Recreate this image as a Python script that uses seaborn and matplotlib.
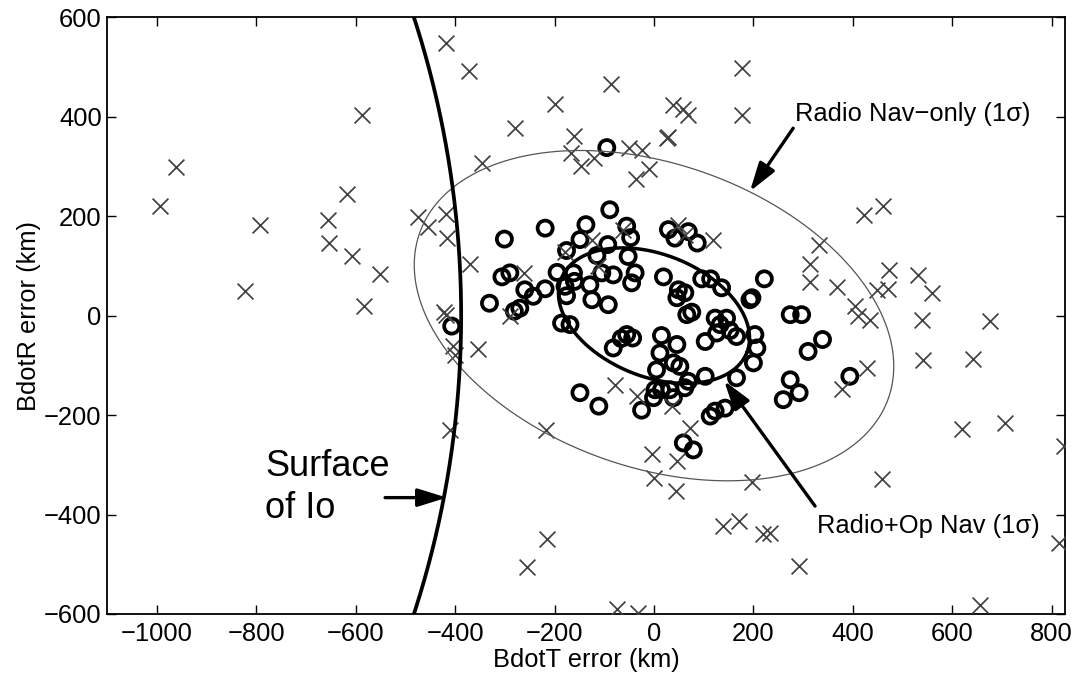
import numpy as np
import pandas as pd
import matplotlib
matplotlib.use("Agg")
import matplotlib.pyplot as plt
import seaborn as sns

# ---------------- data ----------------
# Radio-nav-only dispersion samples (x markers), km
radio_T = [-418, -588, -962, -993, -792, -618, -655, -653, -608, -551, -822, -584,
           -475, -455, -419, -417, -422, -418, -373, -199, -87, -279, -160, -168,
           -147, -121, -347, 38, 59, 69, 29, 26, -50, -25, -11, -36, 178, 178,
           -370, -262, 49, 62, 119, -63, -125, -112, -179, -290,
           422, 461, 331, 314, 314, 369, 473, 448, 471, 532, 559, 404, 411, 435,
           539, 675, 541, 641, 428, 378, 619, 706, 824, 197, 458, 170, 220, 233,
           292, 815, 655, 139,
           -404, -400, -354, -410, -217, -215, -256, -74, -32, -78, -35, 36, 72,
           -5, 46, -1, 44]
radio_R = [548, 403, 299, 220, 183, 245, 192, 147, 119, 84, 50, 20,
           198, 178, 204, 156, 8, 2, 493, 425, 466, 377, 362, 328,
           301, 317, 307, 423, 416, 404, 360, 357, 338, 334, 295, 275, 499, 403,
           103, 86, 183, 163, 153, 173, 153, 99, 129, 0,
           203, 220, 143, 103, 67, 57, 92, 52, 54, 82, 46, 19, -1, -8,
           -8, -11, -90, -87, -105, -147, -228, -216, -263, -335, -328, -413, -440, -437,
           -504, -457, -581, -424,
           -62, -80, -68, -229, -230, -450, -505, -591, -598, -139, -162, -182, -226,
           -279, -293, -326, -353]

# Radio + optical nav dispersion samples (o markers), km
opnav_T = [-95, -89, -219, -301, -137, -55, -47, -149, -93, 29, 42, 69, 87, -176,
           -115, -52, -306, -290, -260, -243, -219, -331, -281, -270, -195, -162,
           -179, -176, -160, -129, -105, -82, -125, -92, -186, -169, -38, -45, 19,
           96, 114, 136, 222, 197, 49, 62, 46, 66, 76, 123, 146, 133, 153, 166, 126,
           -55, -43, 15, 46, 12, 5, 39, 52, 69, 62, 2, 15, 32, -1, -25, 113, 123,
           143, 103, 166, 203, 207, 200, 59, 79, 103, 260, -149, -111, -82, -66,
           -407, 274, 297, 339, 310, 274, 292, 394, 193, 39]
opnav_R = [338, 213, 176, 154, 183, 180, 157, 153, 143, 173, 156, 169, 146, 131,
           121, 119, 78, 86, 52, 39, 54, 25, 9, 15, 87, 86,
           59, 40, 69, 62, 86, 82, 32, 22, -15, -18, 86, 66, 78,
           74, 74, 56, 74, 36, 52, 46, 36, 2, 7, -5, -5, -18, -30, -42, -35,
           -38, -45, -40, -58, -75, -109, -95, -102, -132, -145, -149, -149, -149, -165, -190, -202, -192,
           -186, -122, -125, -38, -65, -95, -256, -270, -52, -169, -155, -182, -65, -46,
           -21, 2, 2, -48, -72, -129, -155, -122, 32, -165]

# 1-sigma error ellipses: semi-major, semi-minor (km), orientation (deg)
nav_ellipse = {"a": 500, "b": 305, "angle": -19.4, "cx": 0, "cy": 0}
opnav_ellipse = {"a": 201, "b": 123, "angle": -21.7, "cx": 0, "cy": 0}

# Surface of Io in the B-plane (circle)
io_center_T, io_center_R, io_radius = -2330, 0, 1942

x_ticks = [-1000, -800, -600, -400, -200, 0, 200, 400, 600, 800]
y_ticks = [-600, -400, -200, 0, 200, 400, 600]
x_limits = (-1100, 827)
y_limits = (-600, 600)

# ---------------- style ----------------
sns.set_theme(style="ticks")
plt.rcParams["font.family"] = ["Liberation Sans", "DejaVu Sans"]
plt.rcParams["text.color"] = "black"
plt.rcParams["axes.labelcolor"] = "black"
plt.rcParams["xtick.color"] = "black"
plt.rcParams["ytick.color"] = "black"
FS = 18.4

fig = plt.figure(figsize=(10.78, 6.77), dpi=100)
ax = fig.add_axes([0.0995, 0.0931, 0.8885, 0.8813])

df_o = pd.DataFrame({"T": opnav_T, "R": opnav_R})
df_x = pd.DataFrame({"T": radio_T, "R": radio_R})

sns.scatterplot(data=df_o, x="T", y="R", marker="o", s=118, facecolor="none",
                edgecolor="black", linewidth=2.7, ax=ax, zorder=3)
sns.scatterplot(data=df_x, x="T", y="R", marker="x", s=130, color="#404040",
                linewidth=1.25, ax=ax, zorder=4)


def ellipse_pts(e, n=400):
    t = np.linspace(0, 2 * np.pi, n)
    th = np.deg2rad(e["angle"])
    u = e["a"] * np.cos(t)
    v = e["b"] * np.sin(t)
    return (e["cx"] + u * np.cos(th) - v * np.sin(th),
            e["cy"] + u * np.sin(th) + v * np.cos(th))


ex, ey = ellipse_pts(nav_ellipse)
ax.plot(ex, ey, color="#555555", lw=0.9, zorder=5)
ex, ey = ellipse_pts(opnav_ellipse)
ax.plot(ex, ey, color="black", lw=2.5, zorder=5)

yy = np.linspace(-650, 650, 400)
xx = io_center_T + np.sqrt(io_radius ** 2 - (yy - io_center_R) ** 2)
ax.plot(xx, yy, color="black", lw=2.7, zorder=5)

# annotations
arrow = dict(arrowstyle="-|>,head_length=0.8,head_width=0.25", lw=2.4,
             color="black", mutation_scale=22, shrinkA=0, shrinkB=0)
ax.annotate("", xy=(193, 250), xytext=(280, 377), arrowprops=arrow, zorder=6)
ax.annotate("", xy=(141, -131), xytext=(324, -383), arrowprops=arrow, zorder=6)
ax.annotate("", xy=(-417, -366), xytext=(-541, -366), arrowprops=arrow, zorder=6)

ax.text(284, 391, "Radio Nav\u2212only (1\u03c3)", fontsize=FS, ha="left",
        va="baseline", family=["Liberation Sans", "DejaVu Sans"])
ax.text(328, -437, "Radio+Op Nav (1\u03c3)", fontsize=FS, ha="left",
        va="baseline", family=["Liberation Sans", "DejaVu Sans"])
ax.text(-782, -322, "Surface", fontsize=26, ha="left", va="baseline")
ax.text(-782, -406, "of Io", fontsize=26, ha="left", va="baseline")

ax.set_xlim(*x_limits)
ax.set_ylim(*y_limits)
ax.set_xticks(x_ticks)
ax.set_yticks(y_ticks)
ax.tick_params(direction="in", length=6.5, width=1.0, top=True, right=True,
               labelsize=FS, pad=6, colors="black")
ax.tick_params(axis="y", pad=4)
for sp in ax.spines.values():
    sp.set_linewidth(1.3)
    sp.set_color("black")
    sp.set_visible(True)
ax.set_xlabel("BdotT error (km)", fontsize=FS, labelpad=1)
ax.set_ylabel("BdotR error (km)", fontsize=FS, labelpad=2)

fig.savefig("out.png", dpi=100)
